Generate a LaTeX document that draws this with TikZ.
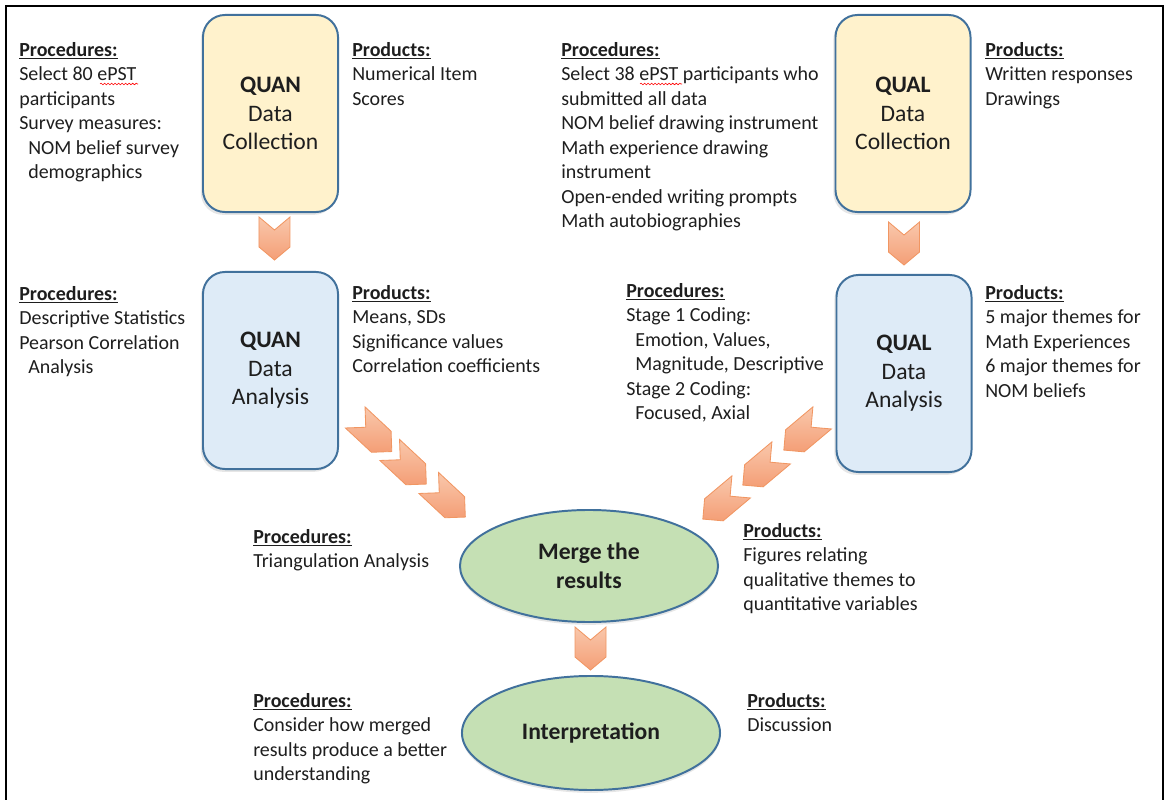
\documentclass[tikz,border=0pt]{standalone}
\usepackage{fontspec}
\setmainfont{Carlito}
\usepackage{xcolor}
\usepackage{tikz}
\usetikzlibrary{positioning,calc,shapes.geometric,shapes.symbols,shadows,decorations.pathmorphing}
\definecolor{boxline}{RGB}{65,113,156}
\definecolor{yellowbg}{RGB}{255,242,204}
\definecolor{bluebg}{RGB}{222,235,247}
\definecolor{greenbg}{RGB}{197,224,180}
\definecolor{chevline}{RGB}{241,150,98}
\definecolor{chevdark}{RGB}{244,158,118}
\definecolor{chevlight}{RGB}{249,200,172}
\definecolor{txt}{RGB}{30,30,30}
\newcommand{\hd}[1]{\underline{\textbf{#1}}}
\newcommand{\ind}{\hspace*{0.45em}}

\begin{document}
\begin{tikzpicture}[x=0.025cm, y=-0.025cm,
    every node/.style={text=txt},
    stage/.style={draw=boxline, line width=1.4pt, rounded corners=0.55cm, minimum width=3.375cm, minimum height=4.925cm, align=center, font=\fontsize{16.8}{20.3}\selectfont, drop shadow={shadow xshift=-1.5pt, shadow yshift=-2pt, opacity=0.2}},
    collect/.style={stage, fill=yellowbg},
    analyse/.style={stage, fill=bluebg},
    merge/.style={ellipse, draw=boxline, line width=1.4pt, fill=greenbg, minimum width=6.45cm, minimum height=2.8cm, align=center, font=\fontsize{16.8}{20.3}\selectfont\bfseries, drop shadow={shadow xshift=0pt, shadow yshift=-2pt, opacity=0.2}},
    notes/.style={anchor=north west, align=left, inner sep=0pt, font=\fontsize{14.2}{17.4}\selectfont},
    chev/.style={signal, signal from=west, signal to=east, signal pointer angle=100, draw=chevline, line width=0.6pt, bottom color=chevdark, top color=chevlight, minimum width=1.075cm, minimum height=0.775cm, inner sep=0pt},
    chevd/.style={chev, signal pointer angle=90, minimum width=1.25cm, minimum height=0.72cm},
    spell/.style={red, line width=0.4pt, decorate, decoration={snake, amplitude=0.6pt, segment length=2.5pt}}
]
\useasboundingbox (0,0) rectangle (1166,800);
\draw[line width=2pt, black] (6,800) -- (6,6) -- (1163,6) -- (1163,800);

% stages
\node[collect] (quancol) at (270.5, 113.5) {\textbf{QUAN}\\Data\\Collection};
\node[collect] (qualcol) at (903, 113.5) {\textbf{QUAL}\\Data\\Collection};
\node[analyse] (quanana) at (270.5, 370.5) {\textbf{QUAN}\\Data\\Analysis};
\node[analyse] (qualana) at (904, 373.5) {\textbf{QUAL}\\Data\\Analysis};
\node[merge] (merge) at (589, 566) {Merge the\\results};
\node[merge, minimum height=2.85cm] (interp) at (591, 733) {Interpretation};

% chevrons
\node[chev, rotate=-90] (quanstep) at (274.5, 238.5) {};
\node[chev, rotate=-90] (qualstep) at (904, 243.5) {};
\node[chev, rotate=-90] (mergestep) at (590.5, 648.5) {};
\node[chevd, rotate=-43] (quanm1) at (373.5, 434.5) {};
\node[chevd, rotate=-43] (quanm2) at (408, 467) {};
\node[chevd, rotate=-43] (quanm3) at (447, 500) {};
\node[chevd, rotate=220] (qualm1) at (803, 434) {};
\node[chevd, rotate=220] (qualm2) at (762, 469) {};
\node[chevd, rotate=220] (qualm3) at (722, 503) {};

% notes
\node[notes] (quancolproc) at (19, 39) {\strut\hd{Procedures:}\\Select 80 ePST\\participants\\Survey measures:\\\ind NOM belief survey\\\ind demographics};
\node[notes] (quancolprod) at (352, 39) {\strut\hd{Products:}\\Numerical Item\\Scores};
\node[notes] (qualcolproc) at (561, 39) {\strut\hd{Procedures:}\\Select 38 ePST participants who\\submitted all data\\NOM belief drawing instrument\\Math experience drawing\\instrument\\Open-ended writing prompts\\Math autobiographies};
\node[notes] (qualcolprod) at (985, 39) {\strut\hd{Products:}\\Written responses\\Drawings};
\node[notes] (quananaproc) at (19, 283) {\strut\hd{Procedures:}\\Descriptive Statistics\\Pearson Correlation\\\ind Analysis};
\node[notes] (quananaprod) at (352, 282) {\strut\hd{Products:}\\Means, SDs\\Significance values\\Correlation coefficients};
\node[notes] (qualanaproc) at (626, 280) {\strut\hd{Procedures:}\\Stage 1 Coding:\\\ind Emotion, Values,\\\ind Magnitude, Descriptive\\Stage 2 Coding:\\\ind Focused, Axial};
\node[notes] (qualanaprod) at (985, 282) {\strut\hd{Products:}\\5 major themes for\\Math Experiences\\6 major themes for\\NOM beliefs};
\node[notes] (mergeproc) at (253, 526) {\strut\hd{Procedures:}\\Triangulation Analysis};
\node[notes] (mergeprod) at (743, 520) {\strut\hd{Products:}\\Figures relating\\qualitative themes to\\quantitative variables};
\node[notes] (interpproc) at (253, 690) {\strut\hd{Procedures:}\\Consider how merged\\results produce a better\\understanding};
\node[notes] (interpprod) at (747, 690) {\strut\hd{Products:}\\Discussion};

% spelling marks
\draw[spell] (100,84) -- (138,84);
\draw[spell] (640,84) -- (682,84);
\end{tikzpicture}
\end{document}
